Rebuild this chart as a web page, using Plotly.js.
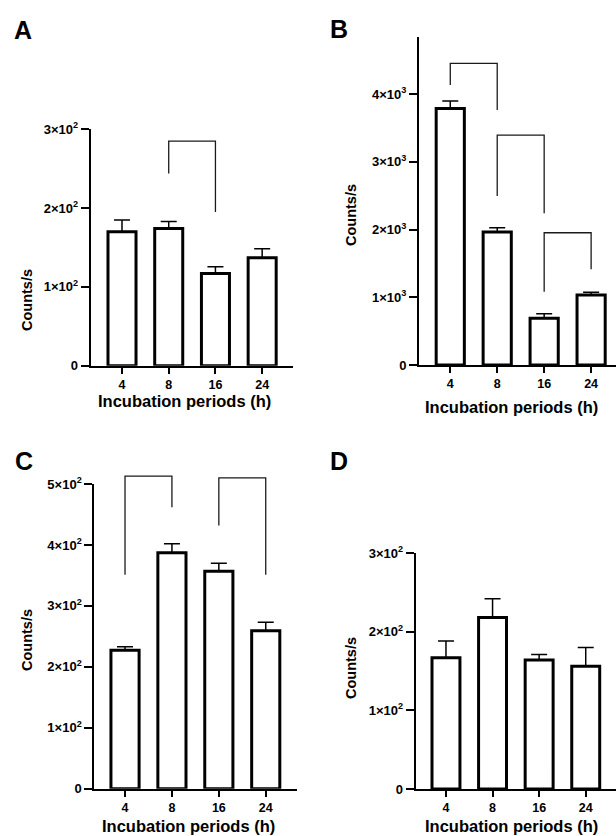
<!DOCTYPE html>
<html>
<head>
<meta charset="utf-8">
<script src="https://cdn.plot.ly/plotly-3.0.1.min.js"></script>
<style>html,body{margin:0;padding:0;background:#fff;}#chart{width:616px;height:836px;}</style>
</head>
<body>
<div id="chart"></div>
<script>
// ---------- data ----------
const categories = ["4", "8", "16", "24"];

const meanA = [170, 174, 117, 137];
const errA  = [15, 9, 8.5, 11.5];
const meanB = [3790, 1965, 690, 1035];
const errB  = [110, 63, 68, 40];
const meanC = [227, 387, 357, 259];
const errC  = [6, 15, 13, 14];
const meanD = [167, 218, 164, 156];
const errD  = [21, 24, 7, 24];

// brackets: pairs of categories, top height, leg end heights [left, right]
const bracketPairsA = [["8", "16"]];
const bracketTopA   = [285];
const bracketLegsA  = [[244, 195]];
const bracketPairsB = [["4", "8"], ["8", "16"], ["16", "24"]];
const bracketTopB   = [4457, 3397, 1954];
const bracketLegsB  = [[4136, 3767], [2496, 2240], [1083, 1414]];
const bracketPairsC = [["4", "8"], ["16", "24"]];
const bracketTopC   = [513, 510];
const bracketLegsC  = [[351, 462], [432, 351]];

const yTicksA = [0, 100, 200, 300];
const yTickTextA = ["0", "1×10<sup>2</sup>", "2×10<sup>2</sup>", "3×10<sup>2</sup>"];
const yTicksB = [0, 1000, 2000, 3000, 4000];
const yTickTextB = ["0", "1×10<sup>3</sup>", "2×10<sup>3</sup>", "3×10<sup>3</sup>", "4×10<sup>3</sup>"];
const yTicksC = [0, 100, 200, 300, 400, 500];
const yTickTextC = ["0", "1×10<sup>2</sup>", "2×10<sup>2</sup>", "3×10<sup>2</sup>", "4×10<sup>2</sup>", "5×10<sup>2</sup>"];
const yTicksD = [0, 100, 200, 300];
const yTickTextD = ["0", "1×10<sup>2</sup>", "2×10<sup>2</sup>", "3×10<sup>2</sup>"];

const panelLetters = ["A", "B", "C", "D"];
const xTitle = "Incubation periods (h)";
const yTitle = "Counts/s";

// ---------- layout helpers ----------
const W = 616, H = 836;
const px = v => v / W;
const py = v => 1 - v / H;
const FONT = "Liberation Sans, Arial, Helvetica, sans-serif";
const EXT = 30; // extra px above the axis where brackets may be drawn

const panels = [
  {mean: meanA, err: errA, pairs: bracketPairsA, top: bracketTopA, legs: bracketLegsA,
   xd: [90.7, 293], yd: [365.7, 129.3], yr: [0, 300], xr: [-0.67, 3.66], tv: yTicksA, tt: yTickTextA,
   letter: [23, 30], xt: [184, 401], yt: [27, 300]},
  {mean: meanB, err: errB, pairs: bracketPairsB, top: bracketTopB, legs: bracketLegsB,
   xd: [419, 616], yd: [365, 36.7], yr: [0, 4850], xr: [-0.666, 3.53], tv: yTicksB, tt: yTickTextB,
   letter: [339, 29], xt: [511, 407], yt: [351, 215]},
  {mean: meanC, err: errC, pairs: bracketPairsC, top: bracketTopC, legs: bracketLegsC,
   xd: [94.3, 296.7], yd: [788.7, 484], yr: [0, 500], xr: [-0.655, 3.66], tv: yTicksC, tt: yTickTextC,
   letter: [24, 461], xt: [188, 826], yt: [27, 640]},
  {mean: meanD, err: errD, pairs: [], top: [], legs: [],
   xd: [415.7, 616], yd: [789, 553], yr: [0, 300], xr: [-0.65, 3.65], tv: yTicksD, tt: yTickTextD,
   letter: [339, 461], xt: [511, 826], yt: [351, 668]}
];

const traces = [];
const layout = {
  width: W, height: H,
  margin: {l: 0, r: 0, t: 0, b: 0},
  paper_bgcolor: "#fff", plot_bgcolor: "rgba(0,0,0,0)",
  showlegend: false,
  font: {family: FONT, color: "#000"},
  annotations: []
};

panels.forEach((p, i) => {
  const n = i + 1;
  const xa = n === 1 ? "x" : "x" + n;
  const ya = n === 1 ? "y" : "y" + n;
  const yb = "y" + (n + 4);          // hidden companion axis for the brackets
  traces.push({
    type: "bar", x: categories, y: p.mean, xaxis: xa, yaxis: ya,
    width: 0.6, cliponaxis: false,
    marker: {color: "#fff", line: {color: "#000", width: 3}},
    error_y: {type: "data", array: p.err, arrayminus: p.err.map(() => 0), symmetric: false,
              color: "#000", thickness: 1.5, width: 8},
    hoverinfo: "none"
  });
  p.pairs.forEach((pr, j) => {
    traces.push({
      type: "scatter", mode: "lines", xaxis: xa, yaxis: yb,
      x: [pr[0], pr[0], pr[1], pr[1]],
      y: [p.legs[j][0], p.top[j], p.top[j], p.legs[j][1]],
      line: {color: "#1a1a1a", width: 1.3},
      hoverinfo: "none"
    });
  });
  layout["xaxis" + (n === 1 ? "" : n)] = {
    domain: [px(p.xd[0]), px(p.xd[1])], anchor: ya,
    type: "category", categoryorder: "array", categoryarray: categories,
    range: p.xr, showline: true, linecolor: "#000", linewidth: 2,
    ticks: "outside", ticklen: 6, tickwidth: 2, tickcolor: "#000",
    tickfont: {family: FONT, size: 12.5, weight: "bold", color: "#000"},
    showgrid: false, zeroline: false, fixedrange: true
  };
  layout["yaxis" + (n === 1 ? "" : n)] = {
    domain: [py(p.yd[0]), py(p.yd[1])], anchor: xa,
    range: p.yr, tickmode: "array", tickvals: p.tv, ticktext: p.tt,
    showline: true, linecolor: "#000", linewidth: 2,
    ticks: "outside", ticklen: 8, tickwidth: 2, tickcolor: "#000",
    tickfont: {family: FONT, size: 13, weight: "bold", color: "#000"},
    showgrid: false, zeroline: false, fixedrange: true
  };
  // companion axis: same scale, domain extended upward so brackets aren't clipped
  const hgt = p.yd[0] - p.yd[1];
  layout["yaxis" + (n + 4)] = {
    domain: [py(p.yd[0]), py(p.yd[1] - EXT)], anchor: xa,
    range: [p.yr[0], p.yr[1] * (hgt + EXT) / hgt],
    visible: false, showgrid: false, zeroline: false, fixedrange: true
  };
  layout.annotations.push(
    {text: panelLetters[i], xref: "paper", yref: "paper", x: px(p.letter[0]), y: py(p.letter[1]),
     xanchor: "center", yanchor: "middle", showarrow: false,
     font: {family: FONT, size: 25, weight: "bold", color: "#000"}},
    {text: xTitle, xref: "paper", yref: "paper", x: px(p.xt[0]), y: py(p.xt[1]),
     xanchor: "center", yanchor: "middle", showarrow: false,
     font: {family: FONT, size: 16.5, weight: "bold", color: "#000"}},
    {text: yTitle, xref: "paper", yref: "paper", x: px(p.yt[0]), y: py(p.yt[1]),
     xanchor: "center", yanchor: "middle", showarrow: false, textangle: -90,
     font: {family: FONT, size: 14.5, weight: "bold", color: "#000"}}
  );
});

Plotly.newPlot("chart", traces, layout, {displayModeBar: false, staticPlot: true});
</script>
</body>
</html>
